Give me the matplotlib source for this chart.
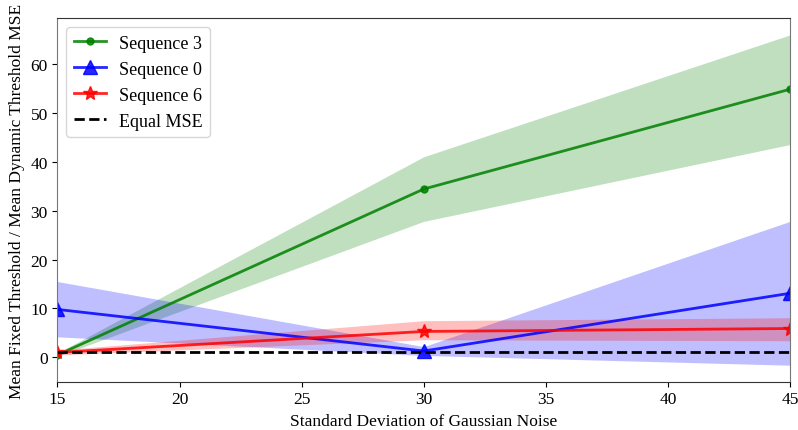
import matplotlib
matplotlib.use("Agg")
import matplotlib.pyplot as plt
import numpy as np

plt.rcParams['font.family'] = ['Liberation Serif', 'DejaVu Serif']
plt.rcParams['mathtext.fontset'] = 'stix'

noise = [15, 30, 45]

seq3_mean = [0.5, 34.4, 54.8]
seq3_low = [0.2, 27.8, 43.5]
seq3_high = [0.9, 41.0, 65.9]

seq0_mean = [9.8, 1.3, 13.1]
seq0_low = [4.2, 0.4, -1.6]
seq0_high = [15.5, 2.2, 27.8]

seq6_mean = [1.0, 5.3, 5.9]
seq6_low = [0.5, 3.6, 3.4]
seq6_high = [1.5, 7.5, 8.1]

equal_mse = 1.0

fig, ax = plt.subplots(figsize=(7.98, 4.31), dpi=100)

ax.plot(noise, seq3_mean, color='green', marker='o', markersize=5, linewidth=2, alpha=0.85, label='Sequence 3')
ax.fill_between(noise, seq3_low, seq3_high, color='green', alpha=0.25, linewidth=0)
ax.plot(noise, seq0_mean, color='blue', marker='^', markersize=10, linewidth=2, alpha=0.85, label='Sequence 0')
ax.fill_between(noise, seq0_low, seq0_high, color='blue', alpha=0.25, linewidth=0)
ax.plot(noise, seq6_mean, color='red', marker='*', markersize=10, linewidth=2, alpha=0.85, label='Sequence 6')
ax.fill_between(noise, seq6_low, seq6_high, color='red', alpha=0.25, linewidth=0)
ax.axhline(equal_mse, color='black', linestyle='--', linewidth=2, label='Equal MSE')

ax.set_xlim(15, 45)
ax.set_xlabel('Standard Deviation of Gaussian Noise', fontsize=12.5)
ax.set_ylabel('Mean Fixed Threshold / Mean Dynamic Threshold MSE', fontsize=12.5)
ax.tick_params(labelsize=12.5)
ax.legend(fontsize=13, loc='upper left', handlelength=1.8, handletextpad=0.7)

for s in ['left', 'right']:
    ax.spines[s].set_color('#777777')
for s in ['top', 'bottom']:
    ax.spines[s].set_color('#333333')

fig.subplots_adjust(left=0.072, right=0.99, top=0.955, bottom=0.112)
fig.savefig('out.png', dpi=100)
